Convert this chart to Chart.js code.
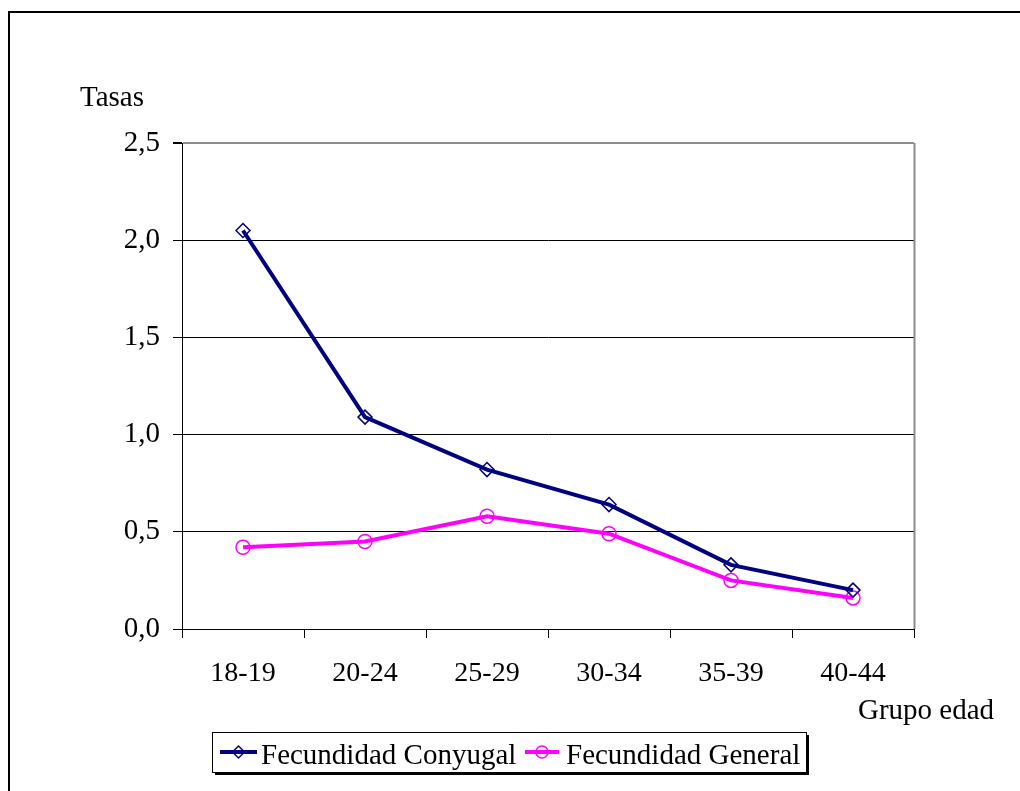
<!DOCTYPE html>
<html><head><meta charset="utf-8">
<script src="https://cdn.jsdelivr.net/npm/chart.js@4.4.1/dist/chart.umd.min.js"></script>
<style>html,body{margin:0;padding:0;background:#fff;overflow:hidden}#c{display:block}</style>
</head><body>
<canvas id="c" width="1020" height="791"></canvas>
<script>
const categories = ['18-19', '20-24', '25-29', '30-34', '35-39', '40-44'];
const conyugal = [2.05, 1.09, 0.82, 0.64, 0.33, 0.20];
const general = [0.42, 0.45, 0.58, 0.49, 0.25, 0.16];
const seriesNames = ['Fecundidad Conyugal', 'Fecundidad General'];
const yTitle = 'Tasas';
const xTitle = 'Grupo edad';

const FONT = "'Liberation Serif', 'Times New Roman', serif";

function drawMarker(ctx, style, x, y, r, color) {
  ctx.save();
  ctx.strokeStyle = color;
  ctx.lineWidth = 1.5;
  ctx.beginPath();
  if (style === 'rectRot') {
    ctx.moveTo(x, y - r); ctx.lineTo(x + r, y); ctx.lineTo(x, y + r); ctx.lineTo(x - r, y); ctx.closePath();
  } else {
    ctx.arc(x, y, r, 0, Math.PI * 2);
  }
  ctx.stroke();
  ctx.restore();
}

const decor = {
  id: 'decor',
  beforeDraw(chart) {
    const ctx = chart.ctx;
    ctx.save();
    ctx.fillStyle = '#fff';
    ctx.fillRect(0, 0, chart.width, chart.height);
    ctx.strokeStyle = '#000';
    ctx.lineWidth = 2;
    ctx.strokeRect(9, 12, 1100, 900);
    ctx.restore();
  },
  afterDatasetsDraw(chart) {
    const ctx = chart.ctx;
    const a = chart.chartArea;
    ctx.save();
    // right plot border (gray)
    ctx.strokeStyle = '#8c8c8c';
    ctx.lineWidth = 2;
    ctx.beginPath();
    ctx.moveTo(a.right + 0.5, a.top);
    ctx.lineTo(a.right + 0.5, a.bottom);
    ctx.stroke();
    // axis titles
    ctx.fillStyle = '#000';
    ctx.font = '29px ' + FONT;
    ctx.textBaseline = 'alphabetic';
    ctx.textAlign = 'left';
    ctx.fillText(yTitle, 80, 106);
    ctx.fillText(xTitle, 858, 719);
    // legend box
    const bx = 212, by = 732, bw = 594, bh = 40;
    ctx.fillStyle = '#000';
    ctx.fillRect(bx + 3, by + 3, bw, bh);
    ctx.fillStyle = '#fff';
    ctx.fillRect(bx, by, bw, bh);
    ctx.strokeStyle = '#000';
    ctx.lineWidth = 1;
    ctx.strokeRect(bx + 0.5, by + 0.5, bw, bh);
    const items = [
      { x0: 220, x1: 257, tx: 261 },
      { x0: 525, x1: 559, tx: 566 }
    ];
    chart.data.datasets.forEach((ds, i) => {
      const it = items[i];
      const ly = 752;
      ctx.strokeStyle = ds.borderColor;
      ctx.lineWidth = 4;
      ctx.beginPath();
      ctx.moveTo(it.x0, ly);
      ctx.lineTo(it.x1, ly);
      ctx.stroke();
      drawMarker(ctx, ds.pointStyle, (it.x0 + it.x1) / 2, ly, 6, ds.pointBorderColor);
      ctx.fillStyle = '#000';
      ctx.font = '29px ' + FONT;
      ctx.fillText(ds.label, it.tx, 764);
    });
    ctx.restore();
  }
};

new Chart(document.getElementById('c'), {
  type: 'line',
  data: {
    labels: categories,
    datasets: [
      {
        label: seriesNames[0],
        data: conyugal,
        borderColor: '#000080',
        borderWidth: 4,
        pointStyle: 'rectRot',
        pointRadius: 7,
        pointBorderWidth: 1.5,
        pointBorderColor: '#000080',
        pointBackgroundColor: 'rgba(0,0,0,0)',
        tension: 0
      },
      {
        label: seriesNames[1],
        data: general,
        borderColor: '#ff00ff',
        borderWidth: 4,
        pointStyle: 'circle',
        pointRadius: 7,
        pointBorderWidth: 1.5,
        pointBorderColor: '#ff00ff',
        pointBackgroundColor: 'rgba(0,0,0,0)',
        tension: 0
      }
    ]
  },
  options: {
    responsive: false,
    animation: false,
    layout: { padding: { top: 143, right: 106, left: 0, bottom: 0 } },
    plugins: { legend: { display: false }, tooltip: { enabled: false } },
    scales: {
      x: {
        offset: true,
        grid: { offset: true, drawOnChartArea: false, drawTicks: true, tickLength: 9, color: '#000', lineWidth: 1 },
        border: { color: '#000', width: 1 },
        ticks: { color: '#000', font: { family: FONT, size: 28 }, padding: 19, maxRotation: 0 },
        afterFit(s) { s.height = 162; }
      },
      y: {
        min: 0,
        max: 2.5,
        ticks: {
          stepSize: 0.5,
          color: '#000',
          font: { family: FONT, size: 29 },
          padding: 13,
          callback: v => v.toFixed(1).replace('.', ',')
        },
        grid: {
          color: c => (c.tick && c.tick.value === 2.5) ? '#8c8c8c' : '#000',
          lineWidth: c => (c.tick && c.tick.value === 2.5) ? 2 : 1,
          tickLength: 9,
          tickColor: '#000'
        },
        border: { color: '#000', width: 1 },
        afterFit(s) { s.width = 182; }
      }
    }
  },
  plugins: [decor]
});
</script>
</body></html>
